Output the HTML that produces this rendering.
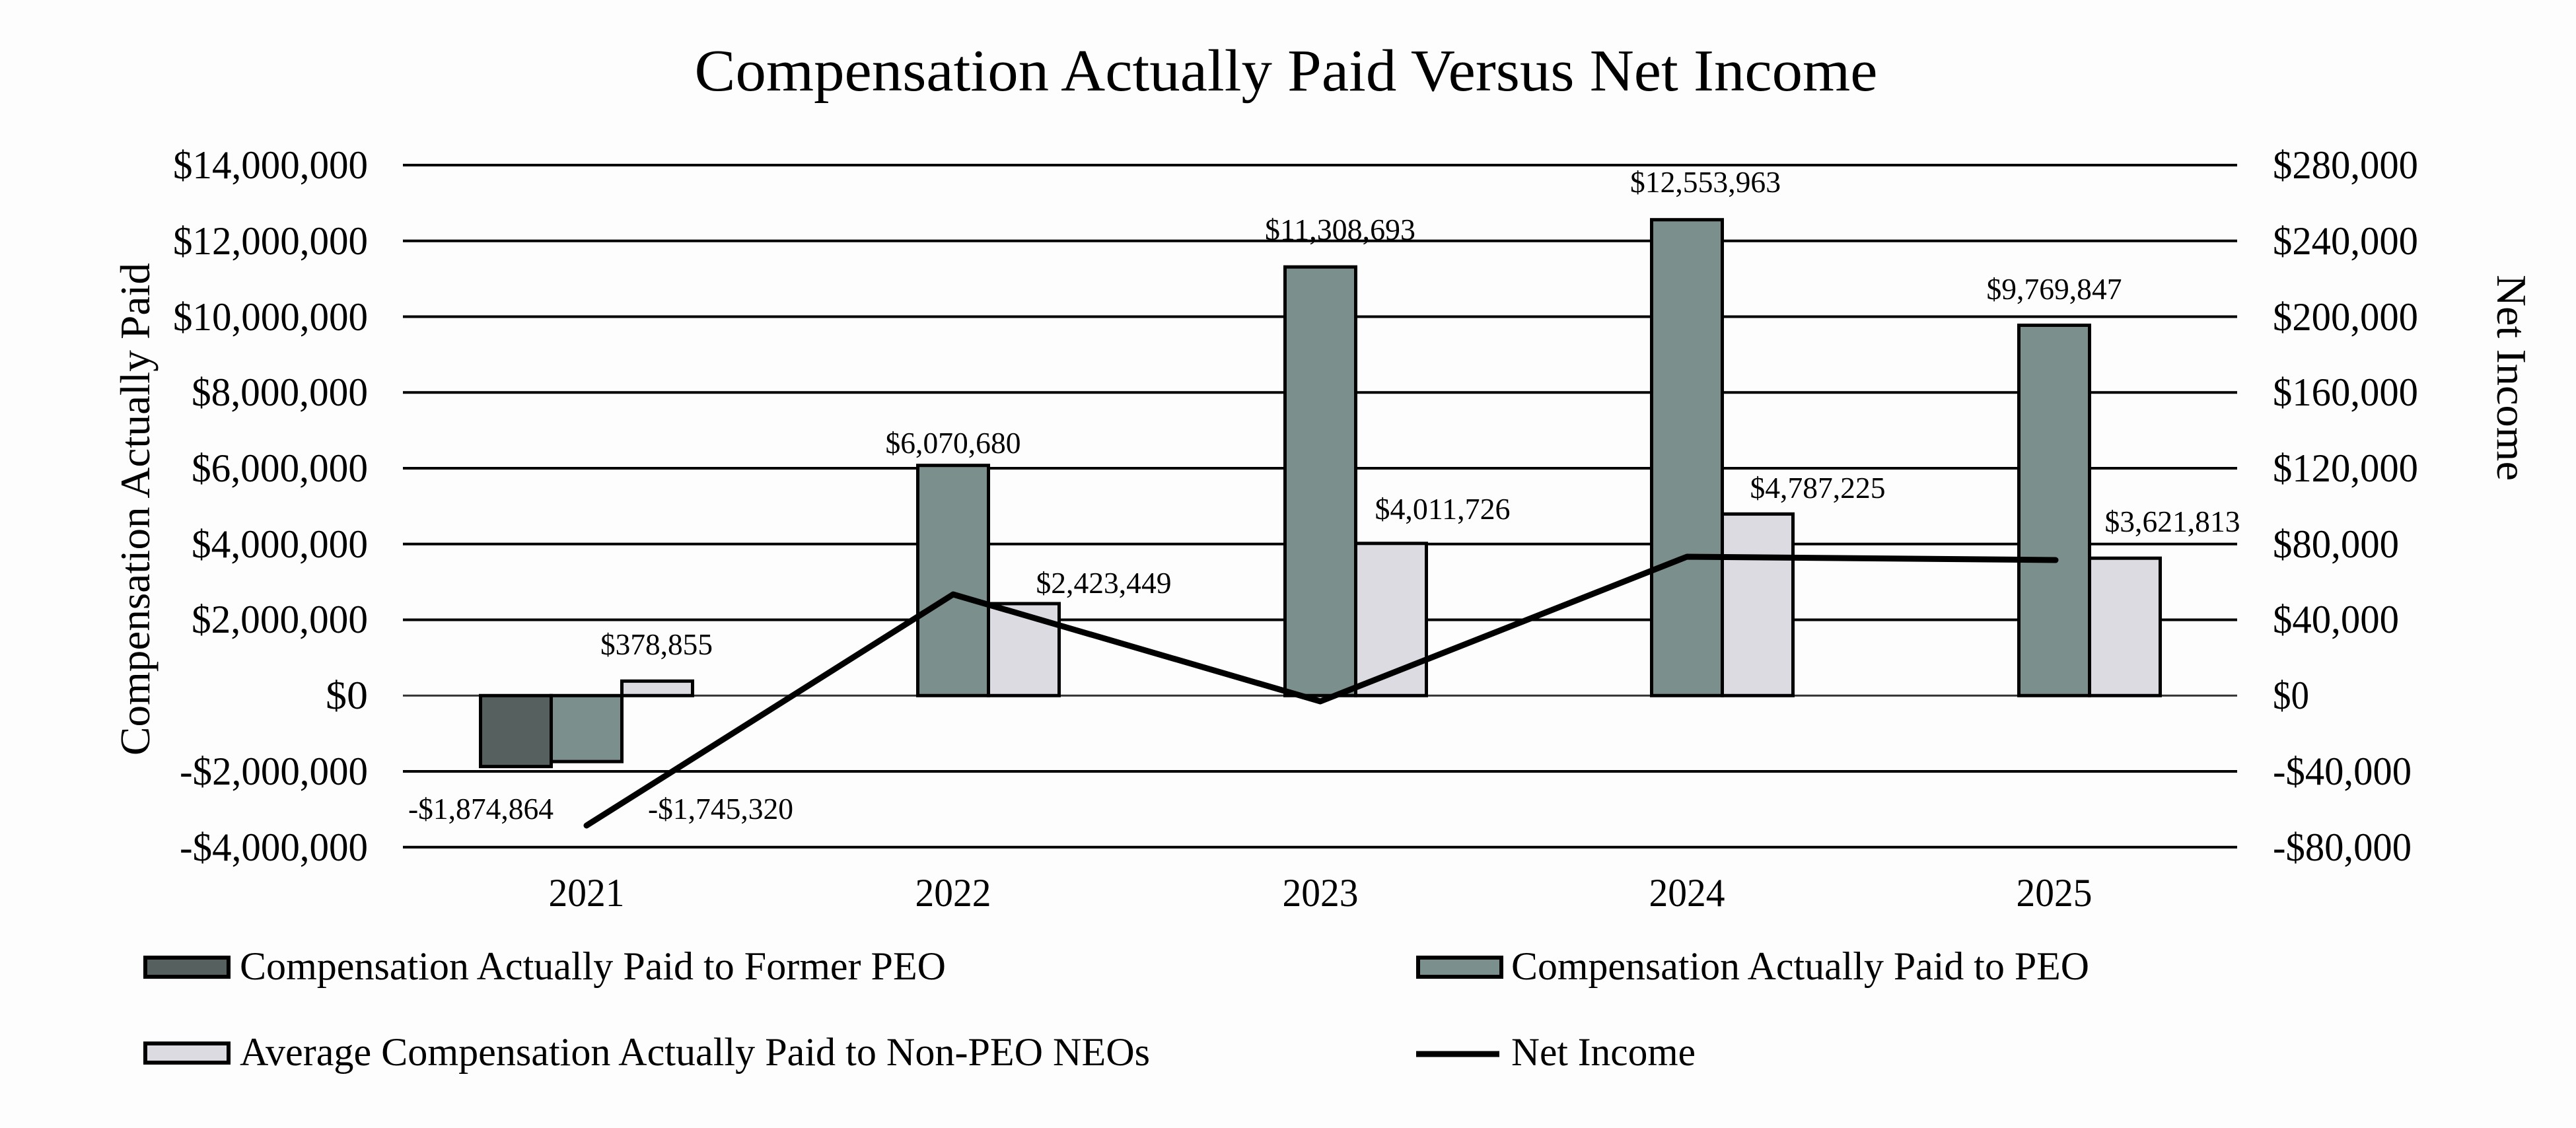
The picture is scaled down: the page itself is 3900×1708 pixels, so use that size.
<!DOCTYPE html>
<html><head><meta charset="utf-8"><style>html,body{margin:0;padding:0;background:#fff}svg{display:block}</style></head>
<body>
<svg width="3900" height="1708" viewBox="0 0 3900 1708" xmlns="http://www.w3.org/2000/svg" font-family="'Liberation Serif', serif" fill="#000">
<rect width="3900" height="1708" fill="#fdfdfd"/>
<text x="1947" y="137" font-size="90" text-anchor="middle" textLength="1791" lengthAdjust="spacingAndGlyphs">Compensation Actually Paid Versus Net Income</text>
<g stroke="#000" stroke-width="4">
<line x1="610" x2="3387" y1="250" y2="250"/>
<line x1="610" x2="3387" y1="364.75" y2="364.75"/>
<line x1="610" x2="3387" y1="479.5" y2="479.5"/>
<line x1="610" x2="3387" y1="594.25" y2="594.25"/>
<line x1="610" x2="3387" y1="709" y2="709"/>
<line x1="610" x2="3387" y1="823.75" y2="823.75"/>
<line x1="610" x2="3387" y1="938.5" y2="938.5"/>
<line x1="610" x2="3387" y1="1053.25" y2="1053.25" stroke-width="3" stroke="#333"/>
<line x1="610" x2="3387" y1="1168" y2="1168"/>
<line x1="610" x2="3387" y1="1282.75" y2="1282.75"/>
</g>
<g font-size="60" text-anchor="end">
<text x="557" y="270" textLength="295" lengthAdjust="spacingAndGlyphs">$14,000,000</text>
<text x="557" y="385" textLength="295" lengthAdjust="spacingAndGlyphs">$12,000,000</text>
<text x="557" y="500" textLength="295" lengthAdjust="spacingAndGlyphs">$10,000,000</text>
<text x="557" y="614" textLength="267" lengthAdjust="spacingAndGlyphs">$8,000,000</text>
<text x="557" y="729" textLength="267" lengthAdjust="spacingAndGlyphs">$6,000,000</text>
<text x="557" y="844" textLength="267" lengthAdjust="spacingAndGlyphs">$4,000,000</text>
<text x="557" y="958" textLength="267" lengthAdjust="spacingAndGlyphs">$2,000,000</text>
<text x="557" y="1073" textLength="64" lengthAdjust="spacingAndGlyphs">$0</text>
<text x="557" y="1188" textLength="285" lengthAdjust="spacingAndGlyphs">-$2,000,000</text>
<text x="557" y="1303" textLength="285" lengthAdjust="spacingAndGlyphs">-$4,000,000</text>
</g>
<g font-size="60">
<text x="3441" y="270" textLength="220" lengthAdjust="spacingAndGlyphs">$280,000</text>
<text x="3441" y="385" textLength="220" lengthAdjust="spacingAndGlyphs">$240,000</text>
<text x="3441" y="500" textLength="220" lengthAdjust="spacingAndGlyphs">$200,000</text>
<text x="3441" y="614" textLength="220" lengthAdjust="spacingAndGlyphs">$160,000</text>
<text x="3441" y="729" textLength="220" lengthAdjust="spacingAndGlyphs">$120,000</text>
<text x="3441" y="844" textLength="191" lengthAdjust="spacingAndGlyphs">$80,000</text>
<text x="3441" y="958" textLength="191" lengthAdjust="spacingAndGlyphs">$40,000</text>
<text x="3441" y="1073" textLength="55" lengthAdjust="spacingAndGlyphs">$0</text>
<text x="3441" y="1188" textLength="210" lengthAdjust="spacingAndGlyphs">-$40,000</text>
<text x="3441" y="1303" textLength="210" lengthAdjust="spacingAndGlyphs">-$80,000</text>
</g>
<text transform="translate(226,771) rotate(-90)" font-size="64" text-anchor="middle" textLength="746" lengthAdjust="spacingAndGlyphs">Compensation Actually Paid</text>
<text transform="translate(3781,572) rotate(90)" font-size="64" text-anchor="middle" textLength="312" lengthAdjust="spacingAndGlyphs">Net Income</text>
<g stroke="#000" stroke-width="5">
<rect x="727.5" y="1053.25" width="107" height="107.4" fill="#56605f"/>
<rect x="834.5" y="1053.25" width="107" height="99.9" fill="#7b8f8d"/>
<rect x="941.5" y="1031.3" width="107" height="21.95" fill="#dcdbe2"/>
<rect x="1389.5" y="704.7" width="107" height="348.55" fill="#7b8f8d"/>
<rect x="1496.5" y="914" width="107" height="139.25" fill="#dcdbe2"/>
<rect x="1945.5" y="404.2" width="107" height="649.05" fill="#7b8f8d"/>
<rect x="2052.5" y="822.8" width="107" height="230.45" fill="#dcdbe2"/>
<rect x="2500.5" y="332.7" width="107" height="720.55" fill="#7b8f8d"/>
<rect x="2607.5" y="778.3" width="107" height="274.95" fill="#dcdbe2"/>
<rect x="3056.5" y="492.5" width="107" height="560.75" fill="#7b8f8d"/>
<rect x="3163.5" y="845.2" width="107" height="208.05" fill="#dcdbe2"/>
</g>
<polyline points="888,1250 1443,900 1999,1062 2554,843 3112,848" fill="none" stroke="#000" stroke-width="9" stroke-linejoin="round" stroke-linecap="round"/>
<g font-size="46" text-anchor="middle">
<text x="728" y="1240" textLength="220" lengthAdjust="spacingAndGlyphs">-$1,874,864</text>
<text x="1091" y="1240" textLength="220" lengthAdjust="spacingAndGlyphs">-$1,745,320</text>
<text x="994" y="991" textLength="170" lengthAdjust="spacingAndGlyphs">$378,855</text>
<text x="1443" y="686" textLength="205" lengthAdjust="spacingAndGlyphs">$6,070,680</text>
<text x="1671" y="898" textLength="205" lengthAdjust="spacingAndGlyphs">$2,423,449</text>
<text x="2029" y="363" textLength="228" lengthAdjust="spacingAndGlyphs">$11,308,693</text>
<text x="2184" y="786" textLength="205" lengthAdjust="spacingAndGlyphs">$4,011,726</text>
<text x="2582" y="291" textLength="228" lengthAdjust="spacingAndGlyphs">$12,553,963</text>
<text x="2752" y="754" textLength="205" lengthAdjust="spacingAndGlyphs">$4,787,225</text>
<text x="3110" y="453" textLength="205" lengthAdjust="spacingAndGlyphs">$9,769,847</text>
<text x="3289" y="805" textLength="205" lengthAdjust="spacingAndGlyphs">$3,621,813</text>
</g>
<g font-size="60" text-anchor="middle">
<text x="888" y="1372" textLength="115" lengthAdjust="spacingAndGlyphs">2021</text>
<text x="1443" y="1372" textLength="115" lengthAdjust="spacingAndGlyphs">2022</text>
<text x="1999" y="1372" textLength="115" lengthAdjust="spacingAndGlyphs">2023</text>
<text x="2554" y="1372" textLength="115" lengthAdjust="spacingAndGlyphs">2024</text>
<text x="3110" y="1372" textLength="115" lengthAdjust="spacingAndGlyphs">2025</text>
</g>
<g stroke="#000" stroke-width="6">
<rect x="220" y="1450" width="126" height="29" fill="#56605f"/>
<rect x="220" y="1580" width="126" height="29" fill="#dcdbe2"/>
<rect x="2147" y="1450" width="126" height="29" fill="#7b8f8d"/>
<line x1="2144" x2="2270" y1="1596" y2="1596" stroke-width="9"/>
</g>
<g font-size="60">
<text x="363" y="1483" textLength="1069" lengthAdjust="spacingAndGlyphs">Compensation Actually Paid to Former PEO</text>
<text x="363" y="1613" textLength="1378" lengthAdjust="spacingAndGlyphs">Average Compensation Actually Paid to Non-PEO NEOs</text>
<text x="2288" y="1483" textLength="875" lengthAdjust="spacingAndGlyphs">Compensation Actually Paid to PEO</text>
<text x="2288" y="1613" textLength="279" lengthAdjust="spacingAndGlyphs">Net Income</text>
</g>
</svg>
</body></html>
